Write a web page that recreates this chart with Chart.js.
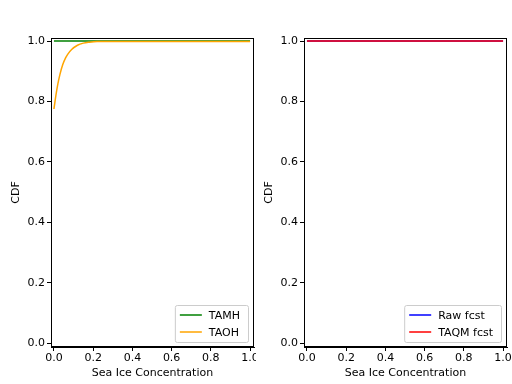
<!DOCTYPE html>
<html>
<head>
<meta charset="utf-8">
<script src="https://cdn.jsdelivr.net/npm/chart.js@4"></script>
<style>
  body { margin: 0; background: #fff; }
  .wrap { position: absolute; top: 0; width: 256px; height: 384px; }
</style>
</head>
<body>
<div class="wrap" style="left:0"><canvas id="left"></canvas></div>
<div class="wrap" style="left:256px"><canvas id="right"></canvas></div>
<script>
// values
const xTicks = [0, 0.2, 0.4, 0.6, 0.8, 1.0];
const yTicks = [0, 0.2, 0.4, 0.6, 0.8, 1.0];
const taomhX = [0, 1];
const taomhY = [1, 1];
const taohX = [0, 0.01, 0.02, 0.03, 0.045, 0.06, 0.07, 0.09, 0.12, 0.15, 0.18, 0.22, 0.3, 0.5, 1.0];
const taohY = [0.775, 0.82, 0.858, 0.888, 0.922, 0.945, 0.956, 0.972, 0.986, 0.993, 0.996, 0.998, 0.998, 0.998, 0.998];
const rawX = [0, 1];
const rawY = [1, 1];
const taqmX = [0, 1];
const taqmY = [1, 1];

Chart.defaults.font.family = 'DejaVu Sans';
Chart.defaults.font.size = 11;
Chart.defaults.color = '#000';

function pts(xs, ys) {
  return xs.map((x, i) => ({ x: x, y: ys[i] }));
}

// box round the plot and legend in the lower right corner
const framePlugin = {
  id: 'frame',
  afterDatasetsDraw(chart) {
    const ctx = chart.ctx;
    const a = chart.chartArea;
    ctx.save();
    ctx.strokeStyle = '#000';
    ctx.lineWidth = 1;
    ctx.strokeRect(a.left + 0.5, a.top + 0.5, a.right - a.left - 1, a.bottom - a.top - 1);

    const items = chart.data.datasets;
    ctx.font = '11px DejaVu Sans';
    let tw = 0;
    items.forEach(d => { tw = Math.max(tw, ctx.measureText(d.label).width); });
    const w = tw + 42, h = 37;
    const x0 = a.right - 6 - w, y0 = a.bottom - 5 - h;
    ctx.fillStyle = 'rgba(255,255,255,0.8)';
    ctx.strokeStyle = '#ccc';
    ctx.beginPath();
    ctx.roundRect(x0 + 0.5, y0 + 0.5, w, h, 2);
    ctx.fill();
    ctx.stroke();
    items.forEach((d, i) => {
      const ly = y0 + 10 + i * 17;
      ctx.strokeStyle = d.borderColor;
      ctx.lineWidth = 1.5;
      ctx.beginPath();
      ctx.moveTo(x0 + 5, ly);
      ctx.lineTo(x0 + 27, ly);
      ctx.stroke();
      ctx.fillStyle = '#000';
      ctx.textBaseline = 'middle';
      ctx.fillText(d.label, x0 + 34, ly + 1);
    });
    ctx.restore();
  }
};

function makeChart(id, datasets, padLeft, padRight, titlePad) {
  return new Chart(document.getElementById(id), {
    type: 'line',
    data: { datasets: datasets },
    plugins: [framePlugin],
    options: {
      responsive: true,
      maintainAspectRatio: false,
      animation: false,
      layout: { padding: { left: 0, right: padRight, top: 38, bottom: 0 } },
      plugins: { legend: { display: false }, tooltip: { enabled: false } },
      elements: { point: { radius: 0 }, line: { borderWidth: 1.5, cubicInterpolationMode: 'monotone' } },
      scales: {
        x: {
          type: 'linear', min: -0.015, max: 1.02,
          afterBuildTicks: s => { s.ticks = xTicks.map(v => ({ value: v })); },
          afterFit: s => { s.height = 37; s.paddingLeft = 0; s.paddingRight = 0; },
          ticks: { callback: v => v.toFixed(1), maxRotation: 0, padding: 1 },
          grid: { drawOnChartArea: false, tickLength: 4, color: '#000' },
          border: { color: '#000' },
          title: { display: true, text: 'Sea Ice Concentration', padding: { top: 0, bottom: 4 } }
        },
        y: {
          type: 'linear', min: -0.013, max: 1.01,
          afterBuildTicks: s => { s.ticks = yTicks.map(v => ({ value: v })); },
          afterFit: s => { s.width = padLeft; s.paddingTop = 0; s.paddingBottom = 0; },
          ticks: { callback: v => v.toFixed(1), padding: 2 },
          grid: { drawOnChartArea: false, tickLength: 4, color: '#000' },
          border: { color: '#000' },
          title: { display: true, text: 'CDF', padding: { top: titlePad, bottom: 0 } }
        }
      }
    }
  });
}

makeChart('left', [
  { label: 'TAMH', data: pts(taomhX, taomhY), borderColor: 'green', order: 1 },
  { label: 'TAOH', data: pts(taohX, taohY), borderColor: 'orange', order: 0 }
], 51, 2, 10);

makeChart('right', [
  { label: 'Raw fcst', data: pts(rawX, rawY), borderColor: 'blue', order: 1 },
  { label: 'TAQM fcst', data: pts(taqmX, taqmY), borderColor: 'red', order: 0 }
], 48, 5, 7);
</script>
</body>
</html>
